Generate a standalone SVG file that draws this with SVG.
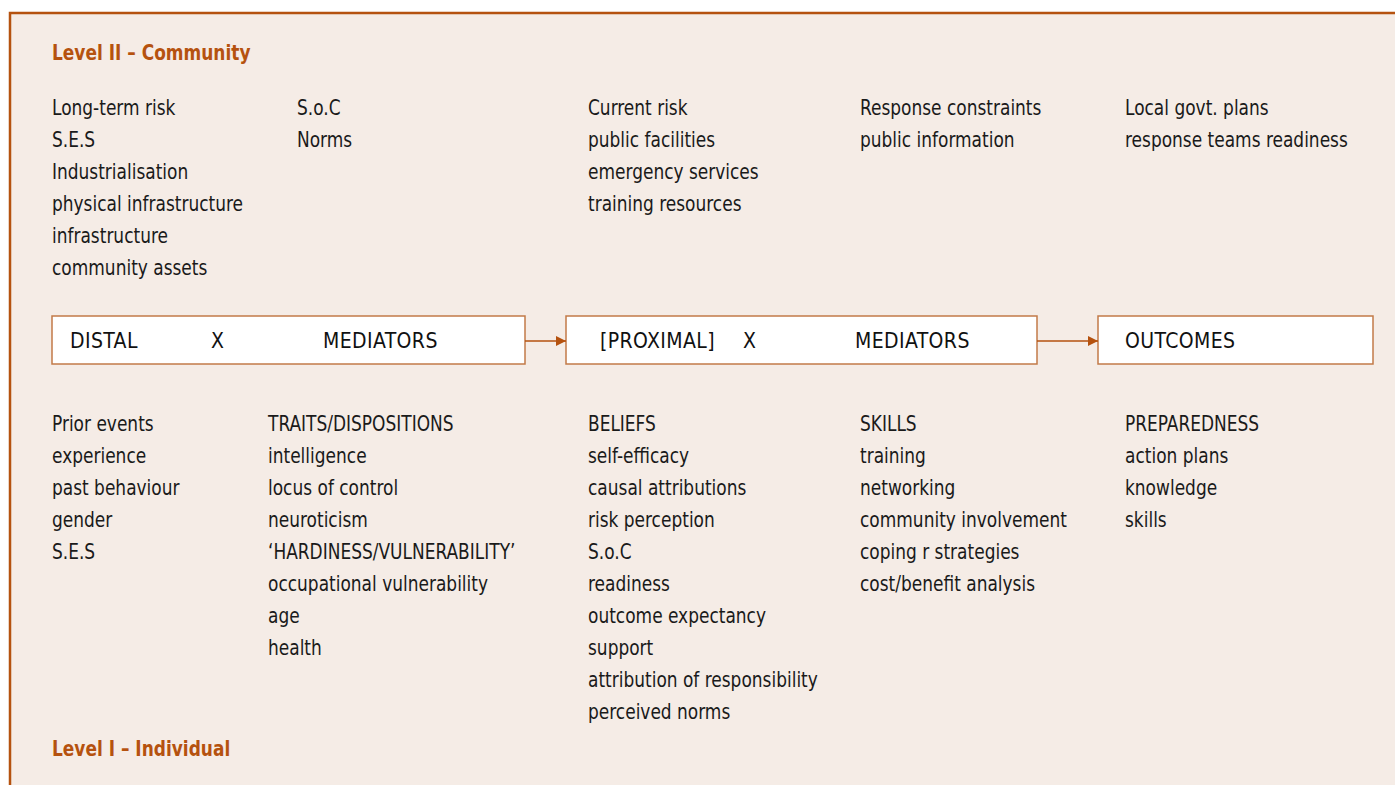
<svg xmlns="http://www.w3.org/2000/svg" width="1395" height="785" viewBox="0 0 1395 785">
  <defs>
    <marker id="arrow" viewBox="0 0 10 10" refX="10" refY="5" markerWidth="10" markerHeight="10" markerUnits="userSpaceOnUse" orient="auto">
      <path d="M0,0 L10,5 L0,10 Z" fill="#b5520f"/>
    </marker>
    <style>
      text { font-family: "Liberation Sans Narrow", "DejaVu Sans Condensed", "Liberation Sans", sans-serif; }
      .item { font-size: 21px; fill: #1a1a1a; }
      .level { font-size: 21px; fill: #b5520f; font-weight: bold; }
      .head { font-size: 21px; fill: #111; letter-spacing: 0.4px; }
      .box { fill: #ffffff; stroke: #c27a48; stroke-width: 1.5; }
      .conn { stroke: #b5520f; stroke-width: 1.5; fill: none; }
    </style>
  </defs>

  <!-- panel -->
  <rect x="0" y="0" width="1395" height="785" fill="#ffffff"/>
  <rect x="10" y="13" width="1400" height="790" fill="#f5ece6" stroke="#b5520f" stroke-width="2.5"/>

  <!-- level headings (narrowed horizontally) -->
  <g transform="translate(52,0) scale(0.9,1)">
    <text class="level" x="0" y="60">Level  II – Community</text>
    <text class="level" x="0" y="756">Level  I – Individual</text>
  </g>

  <!-- community-level factors -->
  <g id="community-distal" transform="translate(52,0) scale(0.9,1)">
    <text class="item" x="0" y="115">Long-term risk</text>
    <text class="item" x="0" y="147">S.E.S</text>
    <text class="item" x="0" y="179">Industrialisation</text>
    <text class="item" x="0" y="211">physical infrastructure</text>
    <text class="item" x="0" y="243">infrastructure</text>
    <text class="item" x="0" y="275">community assets</text>
  </g>
  <g id="community-mediators" transform="translate(297,0) scale(0.9,1)">
    <text class="item" x="0" y="115">S.o.C</text>
    <text class="item" x="0" y="147">Norms</text>
  </g>
  <g id="community-proximal" transform="translate(588,0) scale(0.9,1)">
    <text class="item" x="0" y="115">Current risk</text>
    <text class="item" x="0" y="147">public facilities</text>
    <text class="item" x="0" y="179">emergency  services</text>
    <text class="item" x="0" y="211">training  resources</text>
  </g>
  <g id="community-proximal-mediators" transform="translate(860,0) scale(0.9,1)">
    <text class="item" x="0" y="115">Response  constraints</text>
    <text class="item" x="0" y="147">public information</text>
  </g>
  <g id="community-outcomes" transform="translate(1125,0) scale(0.9,1)">
    <text class="item" x="0" y="115">Local govt. plans</text>
    <text class="item" x="0" y="147">response teams readiness</text>
  </g>

  <!-- main chain -->
  <g id="node-distal">
    <rect class="box" x="52" y="316" width="473" height="48"/>
    <text class="head" x="70" y="348">DISTAL</text>
    <text class="head" x="211" y="348">X</text>
    <text class="head" x="323" y="348">MEDIATORS</text>
  </g>
  <g id="node-proximal">
    <rect class="box" x="566" y="316" width="471" height="48"/>
    <text class="head" x="600" y="348">[PROXIMAL]</text>
    <text class="head" x="743" y="348">X</text>
    <text class="head" x="855" y="348">MEDIATORS</text>
  </g>
  <g id="node-outcomes">
    <rect class="box" x="1098" y="316" width="275" height="48"/>
    <text class="head" x="1125" y="348">OUTCOMES</text>
  </g>

  <g id="connectors">
    <line class="conn" x1="525" y1="341" x2="566" y2="341" marker-end="url(#arrow)"/>
    <line class="conn" x1="1037" y1="341" x2="1098" y2="341" marker-end="url(#arrow)"/>
  </g>

  <!-- individual-level factors -->
  <g id="individual-distal" transform="translate(52,0) scale(0.9,1)">
    <text class="item" x="0" y="431">Prior events</text>
    <text class="item" x="0" y="463">experience</text>
    <text class="item" x="0" y="495">past behaviour</text>
    <text class="item" x="0" y="527">gender</text>
    <text class="item" x="0" y="559">S.E.S</text>
  </g>
  <g id="individual-traits" transform="translate(268,0) scale(0.9,1)">
    <text class="item" x="0" y="431">TRAITS/DISPOSITIONS</text>
    <text class="item" x="0" y="463">intelligence</text>
    <text class="item" x="0" y="495">locus of control</text>
    <text class="item" x="0" y="527">neuroticism</text>
    <text class="item" x="0" y="559">‘HARDINESS/VULNERABILITY’</text>
    <text class="item" x="0" y="591">occupational vulnerability</text>
    <text class="item" x="0" y="623">age</text>
    <text class="item" x="0" y="655">health</text>
  </g>
  <g id="individual-beliefs" transform="translate(588,0) scale(0.9,1)">
    <text class="item" x="0" y="431">BELIEFS</text>
    <text class="item" x="0" y="463">self-efficacy</text>
    <text class="item" x="0" y="495">causal attributions</text>
    <text class="item" x="0" y="527">risk perception</text>
    <text class="item" x="0" y="559">S.o.C</text>
    <text class="item" x="0" y="591">readiness</text>
    <text class="item" x="0" y="623">outcome expectancy</text>
    <text class="item" x="0" y="655">support</text>
    <text class="item" x="0" y="687">attribution of responsibility</text>
    <text class="item" x="0" y="719">perceived norms</text>
  </g>
  <g id="individual-skills" transform="translate(860,0) scale(0.9,1)">
    <text class="item" x="0" y="431">SKILLS</text>
    <text class="item" x="0" y="463">training</text>
    <text class="item" x="0" y="495">networking</text>
    <text class="item" x="0" y="527">community involvement</text>
    <text class="item" x="0" y="559">coping r strategies</text>
    <text class="item" x="0" y="591">cost/benefit analysis</text>
  </g>
  <g id="individual-outcomes" transform="translate(1125,0) scale(0.9,1)">
    <text class="item" x="0" y="431">PREPAREDNESS</text>
    <text class="item" x="0" y="463">action plans</text>
    <text class="item" x="0" y="495">knowledge</text>
    <text class="item" x="0" y="527">skills</text>
  </g>
</svg>
